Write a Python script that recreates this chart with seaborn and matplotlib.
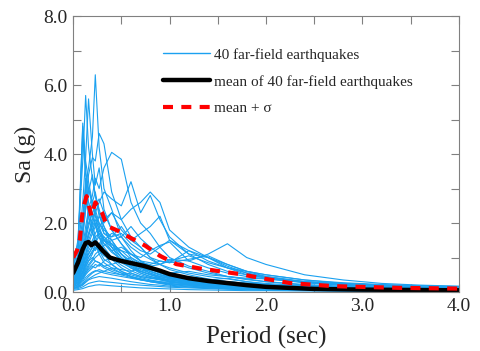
import matplotlib
matplotlib.use("Agg")
import matplotlib.pyplot as plt
import numpy as np
import pandas as pd
import seaborn as sns
from matplotlib.lines import Line2D
from matplotlib.ticker import MultipleLocator

# %% data (Sa in g)
periods = [0.0, 0.05, 0.1, 0.13, 0.16, 0.2, 0.23, 0.27, 0.32, 0.4, 0.5, 0.6, 0.7,
           0.8, 0.9, 1.0, 1.2, 1.4, 1.6, 1.8, 2.0, 2.4, 2.8, 3.2, 3.6, 4.0]

spectra = [
    [0.55, 0.9, 2.2, 3.1, 3.6, 4.5, 6.3, 4.2, 3.0, 2.4, 1.6, 1.2, 0.9, 0.7, 0.55, 0.45, 0.32, 0.25, 0.2, 0.16, 0.13, 0.09, 0.07, 0.05, 0.04, 0.03],
    [0.8, 1.5, 3.8, 5.7, 4.2, 3.3, 2.8, 2.2, 1.9, 1.3, 0.9, 0.7, 0.55, 0.45, 0.38, 0.3, 0.22, 0.17, 0.13, 0.1, 0.08, 0.06, 0.05, 0.04, 0.03, 0.03],
    [0.6, 1.1, 2.6, 3.9, 5.6, 4.0, 3.1, 3.6, 2.4, 1.8, 1.4, 1.0, 0.8, 0.6, 0.5, 0.42, 0.3, 0.24, 0.18, 0.14, 0.11, 0.08, 0.06, 0.05, 0.04, 0.03],
    [0.7, 1.4, 4.8, 3.5, 3.0, 2.6, 2.9, 2.3, 1.7, 1.5, 1.1, 0.8, 0.6, 0.52, 0.4, 0.35, 0.27, 0.2, 0.16, 0.12, 0.1, 0.07, 0.05, 0.04, 0.03, 0.03],
    [0.5, 0.8, 1.8, 2.5, 3.4, 3.9, 3.8, 4.6, 4.3, 2.9, 2.1, 1.6, 1.3, 1.0, 0.8, 0.65, 0.5, 0.38, 0.3, 0.24, 0.2, 0.14, 0.1, 0.08, 0.06, 0.05],
    [0.45, 0.7, 1.3, 1.9, 2.4, 2.8, 3.3, 3.0, 3.6, 4.05, 3.85, 2.6, 2.0, 1.7, 1.3, 1.0, 0.75, 0.6, 0.45, 0.36, 0.3, 0.2, 0.15, 0.11, 0.09, 0.07],
    [0.35, 0.5, 0.9, 1.3, 1.6, 2.0, 2.3, 2.6, 2.9, 2.7, 2.5, 3.2, 2.3, 2.8, 2.1, 1.6, 1.1, 0.8, 0.6, 0.5, 0.42, 0.3, 0.22, 0.16, 0.12, 0.1],
    [0.3, 0.45, 0.8, 1.1, 1.4, 1.7, 1.9, 2.2, 2.0, 2.3, 2.1, 2.4, 2.6, 2.9, 2.6, 1.8, 1.3, 1.0, 0.8, 0.6, 0.5, 0.35, 0.25, 0.2, 0.15, 0.12],
    [0.4, 0.7, 1.6, 2.4, 3.0, 2.5, 2.2, 2.0, 1.8, 1.6, 1.7, 1.4, 1.2, 1.1, 1.3, 1.5, 1.2, 0.9, 0.7, 0.55, 0.45, 0.3, 0.22, 0.17, 0.14, 0.12],
    [0.25, 0.35, 0.6, 0.9, 1.2, 1.4, 1.6, 1.7, 1.5, 1.3, 1.2, 1.1, 0.9, 0.85, 0.8, 0.95, 0.9, 1.1, 1.4, 1.0, 0.8, 0.5, 0.35, 0.25, 0.2, 0.17],
    [0.3, 0.45, 0.9, 1.3, 1.7, 2.1, 2.4, 2.0, 1.7, 1.6, 1.9, 1.5, 1.7, 1.9, 2.2, 1.5, 1.1, 1.0, 0.75, 0.55, 0.42, 0.28, 0.2, 0.15, 0.12, 0.1],
    [0.55, 1.0, 4.9, 3.8, 3.2, 2.6, 2.2, 1.8, 1.5, 1.2, 0.9, 0.7, 0.55, 0.45, 0.4, 0.32, 0.25, 0.2, 0.15, 0.12, 0.1, 0.07, 0.05, 0.04, 0.03, 0.03],
    [0.45, 0.8, 1.7, 2.4, 2.9, 3.4, 2.8, 2.4, 1.9, 1.5, 1.1, 0.85, 0.7, 0.55, 0.45, 0.4, 0.3, 0.22, 0.17, 0.14, 0.11, 0.08, 0.06, 0.05, 0.04, 0.03],
    [0.35, 0.55, 1.1, 1.6, 2.0, 2.3, 2.5, 2.7, 2.3, 1.8, 1.4, 1.1, 0.9, 0.75, 0.6, 0.5, 0.38, 0.3, 0.24, 0.19, 0.16, 0.12, 0.09, 0.07, 0.06, 0.05],
    [0.65, 1.3, 4.5, 3.4, 2.3, 2.0, 1.6, 1.3, 1.1, 0.8, 0.6, 0.45, 0.35, 0.3, 0.25, 0.2, 0.15, 0.12, 0.1, 0.08, 0.06, 0.05, 0.04, 0.03, 0.02, 0.02],
    [0.3, 0.4, 0.7, 1.0, 1.3, 1.5, 1.7, 1.9, 2.1, 2.3, 1.8, 1.5, 1.3, 1.0, 0.9, 0.85, 1.2, 1.0, 0.7, 0.5, 0.4, 0.28, 0.2, 0.15, 0.12, 0.1],
    [0.3, 0.5, 1.0, 1.4, 1.7, 1.9, 2.1, 1.8, 1.6, 1.3, 1.0, 0.8, 0.65, 0.55, 0.45, 0.38, 0.3, 0.25, 0.2, 0.16, 0.13, 0.1, 0.08, 0.06, 0.05, 0.04],
    [0.35, 0.6, 1.9, 3.0, 2.2, 1.7, 1.5, 1.2, 0.95, 0.8, 0.6, 0.5, 0.42, 0.35, 0.3, 0.25, 0.2, 0.16, 0.13, 0.11, 0.09, 0.07, 0.05, 0.04, 0.03, 0.03],
    [0.2, 0.28, 0.45, 0.65, 0.8, 0.95, 1.1, 1.2, 1.35, 1.5, 1.6, 1.3, 1.1, 0.95, 0.8, 0.7, 0.55, 0.45, 0.38, 0.3, 0.25, 0.18, 0.14, 0.11, 0.09, 0.08],
    [0.2, 0.3, 0.55, 0.8, 1.0, 1.2, 1.3, 1.2, 1.05, 0.95, 0.9, 1.0, 0.85, 0.8, 0.9, 0.85, 0.95, 1.05, 0.8, 0.6, 0.45, 0.3, 0.22, 0.17, 0.14, 0.12],
    [0.15, 0.22, 0.4, 0.55, 0.7, 0.8, 0.9, 0.85, 0.75, 0.65, 0.55, 0.45, 0.38, 0.32, 0.28, 0.24, 0.2, 0.16, 0.13, 0.11, 0.09, 0.07, 0.05, 0.04, 0.03, 0.03],
    [0.25, 0.4, 0.8, 1.5, 2.4, 1.8, 1.4, 1.1, 0.85, 0.7, 0.55, 0.45, 0.38, 0.3, 0.26, 0.22, 0.17, 0.14, 0.11, 0.09, 0.07, 0.05, 0.04, 0.03, 0.03, 0.02],
    [0.12, 0.16, 0.25, 0.35, 0.45, 0.55, 0.6, 0.65, 0.6, 0.55, 0.5, 0.42, 0.36, 0.3, 0.27, 0.24, 0.2, 0.17, 0.14, 0.12, 0.1, 0.08, 0.06, 0.05, 0.04, 0.04],
    [0.18, 0.28, 0.5, 0.7, 0.9, 1.1, 1.4, 1.8, 1.5, 1.4, 1.0, 0.75, 0.6, 0.5, 0.42, 0.35, 0.27, 0.22, 0.18, 0.15, 0.12, 0.09, 0.07, 0.06, 0.05, 0.04],
    [0.1, 0.13, 0.2, 0.28, 0.35, 0.4, 0.42, 0.45, 0.43, 0.4, 0.35, 0.3, 0.26, 0.22, 0.2, 0.17, 0.14, 0.12, 0.1, 0.08, 0.07, 0.05, 0.04, 0.03, 0.03, 0.02],
    [0.22, 0.35, 0.7, 1.1, 1.5, 1.8, 2.0, 1.6, 1.2, 0.95, 0.7, 0.55, 0.45, 0.4, 0.35, 0.3, 0.24, 0.2, 0.16, 0.13, 0.11, 0.08, 0.06, 0.05, 0.04, 0.03],
    [0.28, 0.4, 0.75, 1.0, 1.1, 1.3, 1.2, 1.4, 1.6, 1.4, 1.1, 0.9, 0.75, 0.6, 0.5, 0.45, 0.35, 0.3, 0.25, 0.2, 0.17, 0.13, 0.1, 0.08, 0.07, 0.06],
    [0.1, 0.14, 0.22, 0.3, 0.38, 0.45, 0.5, 0.55, 0.6, 0.7, 0.65, 0.6, 0.7, 0.65, 0.6, 0.55, 0.6, 0.5, 0.45, 0.4, 0.38, 0.3, 0.25, 0.2, 0.18, 0.16],
    [0.2, 0.3, 0.55, 0.75, 0.9, 1.0, 0.9, 0.85, 0.75, 0.8, 0.9, 0.75, 0.6, 0.5, 0.45, 0.4, 0.45, 0.35, 0.3, 0.25, 0.2, 0.15, 0.12, 0.1, 0.08, 0.07],
    [0.08, 0.1, 0.15, 0.2, 0.25, 0.28, 0.3, 0.32, 0.3, 0.28, 0.25, 0.22, 0.2, 0.18, 0.16, 0.14, 0.12, 0.1, 0.08, 0.07, 0.06, 0.05, 0.04, 0.03, 0.03, 0.02],
    [0.3, 0.5, 1.1, 1.5, 1.9, 2.3, 2.0, 1.7, 1.4, 1.15, 0.95, 0.8, 0.7, 0.6, 0.5, 0.42, 0.33, 0.26, 0.2, 0.17, 0.14, 0.1, 0.08, 0.06, 0.05, 0.04],
    [0.15, 0.2, 0.35, 0.5, 0.6, 0.7, 0.8, 0.75, 0.9, 1.0, 0.85, 0.7, 0.6, 0.65, 0.55, 0.5, 0.4, 0.35, 0.3, 0.26, 0.22, 0.17, 0.13, 0.1, 0.08, 0.07],
    [0.25, 0.35, 0.6, 0.85, 1.1, 1.3, 1.45, 1.6, 1.4, 1.2, 1.3, 1.1, 1.0, 1.2, 1.35, 1.45, 0.9, 0.7, 0.55, 0.45, 0.38, 0.27, 0.2, 0.15, 0.12, 0.1],
    [0.12, 0.17, 0.3, 0.42, 0.5, 0.58, 0.62, 0.6, 0.55, 0.5, 0.45, 0.4, 0.35, 0.33, 0.3, 0.28, 0.24, 0.2, 0.18, 0.15, 0.13, 0.1, 0.08, 0.07, 0.06, 0.05],
    [0.35, 0.6, 1.4, 3.3, 2.6, 2.2, 1.9, 1.6, 1.3, 1.0, 0.78, 0.62, 0.5, 0.42, 0.36, 0.3, 0.23, 0.18, 0.14, 0.12, 0.1, 0.07, 0.05, 0.04, 0.03, 0.03],
    [0.18, 0.25, 0.45, 0.6, 0.75, 0.9, 1.0, 1.1, 1.2, 1.0, 0.9, 0.8, 0.85, 0.75, 0.8, 0.9, 1.05, 0.85, 0.7, 0.6, 0.5, 0.35, 0.27, 0.22, 0.18, 0.15],
    [0.05, 0.07, 0.1, 0.13, 0.16, 0.18, 0.2, 0.21, 0.2, 0.18, 0.16, 0.14, 0.12, 0.11, 0.1, 0.09, 0.07, 0.06, 0.05, 0.04, 0.04, 0.03, 0.02, 0.02, 0.02, 0.01],
    [0.4, 0.65, 1.2, 1.7, 2.2, 2.6, 2.3, 1.9, 1.5, 1.4, 1.2, 0.95, 0.75, 0.6, 0.5, 0.42, 0.33, 0.27, 0.21, 0.17, 0.14, 0.1, 0.08, 0.06, 0.05, 0.04],
    [0.25, 0.35, 0.6, 0.8, 1.0, 1.15, 1.25, 1.35, 1.5, 1.7, 1.6, 1.9, 1.55, 1.3, 1.1, 0.9, 0.7, 0.55, 0.45, 0.38, 0.3, 0.22, 0.17, 0.13, 0.1, 0.08],
    [0.15, 0.22, 0.4, 0.55, 0.65, 0.75, 0.7, 0.8, 0.7, 0.6, 0.5, 0.55, 0.45, 0.4, 0.38, 0.35, 0.3, 0.35, 0.4, 0.3, 0.22, 0.16, 0.12, 0.1, 0.08, 0.07],
]

mean_periods = [0.0, 0.05, 0.1, 0.13, 0.16, 0.19, 0.23, 0.27, 0.3, 0.38, 0.5, 0.6,
                0.73, 0.9, 1.0, 1.2, 1.4, 1.6, 1.8, 2.0, 2.5, 3.0, 3.5, 4.0]
mean_sa = [0.55, 0.85, 1.25, 1.42, 1.45, 1.36, 1.44, 1.32, 1.22, 1.0, 0.9, 0.84,
           0.76, 0.62, 0.52, 0.4, 0.32, 0.26, 0.2, 0.15, 0.09, 0.07, 0.06, 0.05]

sigma_periods = [0.0, 0.04, 0.07, 0.1, 0.14, 0.19, 0.23, 0.3, 0.35, 0.47, 0.59,
                 0.75, 0.9, 1.07, 1.32, 1.73, 2.0, 2.25, 2.7, 3.4, 4.0]
mean_plus_sigma = [1.0, 1.2, 1.53, 2.4, 2.78, 2.2, 2.6, 2.3, 1.92, 1.77, 1.58,
                   1.34, 1.05, 0.81, 0.68, 0.52, 0.38, 0.26, 0.17, 0.12, 0.1]

labels = ["40 far-field earthquakes", "mean of 40 far-field earthquakes", "mean + \u03c3"]

# %% long form table
df = pd.DataFrame(spectra, columns=periods)
df["eq"] = range(len(spectra))
long = df.melt(id_vars="eq", var_name="T", value_name="Sa")
long["T"] = long["T"].astype(float)

sns.set_style("ticks")
plt.rcParams["font.family"] = ["Liberation Serif", "DejaVu Serif"]

blue = "#1BA1F0"
gray = "#808080"

fig = plt.figure(figsize=(4.81, 3.51), dpi=100)
ax = fig.add_axes([0.152, 0.168, 0.802, 0.786])

sns.lineplot(data=long, x="T", y="Sa", units="eq", estimator=None,
             color=blue, linewidth=0.8, ax=ax, legend=False)
sns.lineplot(x=mean_periods, y=mean_sa, color="black", linewidth=3.2, ax=ax)
sns.lineplot(x=sigma_periods, y=mean_plus_sigma, color="red", linewidth=3.0, ax=ax)
ax.lines[-1].set_dashes((2.4, 2.0))

# axes
ax.set_xlim(0, 4)
ax.set_ylim(0, 8)
ax.set_xticks([0, 1, 2, 3, 4])
ax.set_xticklabels(["0.0", "1.0", "2.0", "3.0", "4.0"])
ax.set_yticks([0, 2, 4, 6, 8])
ax.set_yticklabels(["0.0", "2.0", "4.0", "6.0", "8.0"])
ax.xaxis.set_minor_locator(MultipleLocator(0.5))
ax.yaxis.set_minor_locator(MultipleLocator(1.0))
ax.tick_params(which="both", direction="in", top=True, right=True,
               color=gray, width=0.8, length=6, labelsize=14, pad=4)
for s in ax.spines.values():
    s.set_color(gray)
    s.set_linewidth(0.8)

ax.set_xlabel("Period (sec)", fontsize=18, labelpad=8)
ax.set_ylabel("Sa (g)", fontsize=17, labelpad=5)

# legend
handles = [
    Line2D([], [], color=blue, linewidth=1.0),
    Line2D([], [], color="black", linewidth=3.2),
    Line2D([], [], color="red", linewidth=3.0, dashes=(2.4, 2.0)),
]
fig.legend(handles, labels, loc="upper left", bbox_to_anchor=(163 / 481, 1 - 48 / 351),
           frameon=False, fontsize=11, handlelength=3.1, handletextpad=0.25,
           labelspacing=0.85, borderpad=0, borderaxespad=0)

fig.savefig("out.png", dpi=100)
